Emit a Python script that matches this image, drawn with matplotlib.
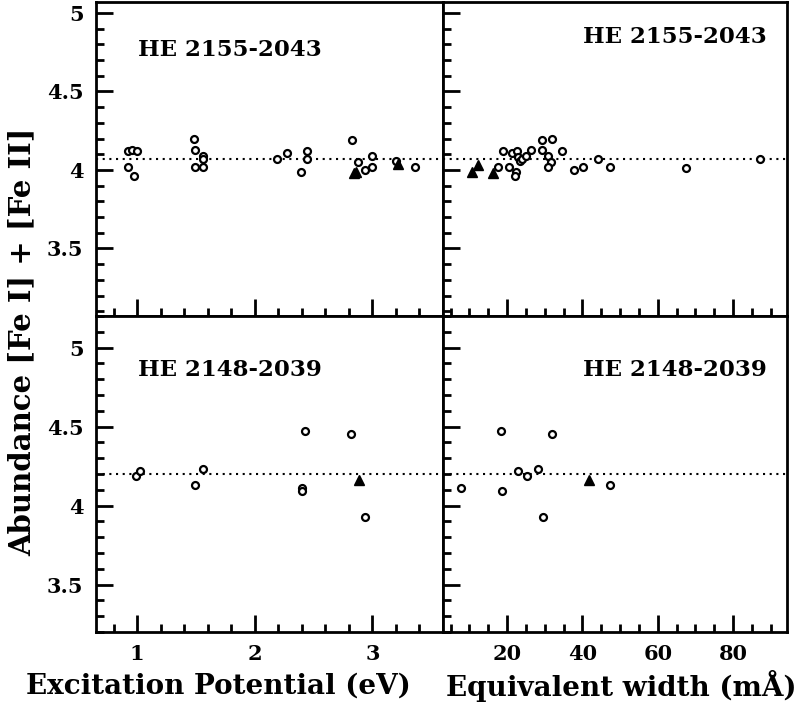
import matplotlib
matplotlib.use("Agg")
import matplotlib.pyplot as plt
from matplotlib.ticker import MultipleLocator

# HE 2155-2043: Fe I (circles) and Fe II (triangles)
ep_2155_fe1 = [0.92, 0.92, 0.96, 1.00, 0.97, 1.48, 1.49, 1.49, 1.56, 1.56, 1.56,
               2.19, 2.27, 2.39, 2.44, 2.44, 2.83, 2.88, 2.94, 3.00, 3.00, 3.20, 3.36]
ab_2155_fe1_ep = [4.02, 4.12, 4.13, 4.12, 3.96, 4.20, 4.13, 4.02, 4.09, 4.07, 4.02,
                  4.07, 4.11, 3.99, 4.12, 4.07, 4.19, 4.05, 4.00, 4.09, 4.02, 4.06, 4.02]
ep_2155_fe2 = [2.84, 2.86, 3.22]
ab_2155_fe2_ep = [3.98, 3.99, 4.04]

ew_2155_fe1 = [19.0, 17.6, 20.5, 21.4, 22.6, 22.4, 22.0, 22.8, 23.5, 24.0, 24.9, 26.4,
               29.4, 29.4, 31.8, 30.8, 31.7, 30.9, 34.6, 37.9, 40.2, 44.2, 47.3, 67.6, 87.2]
ab_2155_fe1_ew = [4.12, 4.02, 4.02, 4.11, 4.12, 3.99, 3.96, 4.08, 4.06, 4.07, 4.09, 4.13,
                  4.19, 4.13, 4.20, 4.09, 4.05, 4.02, 4.12, 4.00, 4.02, 4.07, 4.02, 4.01, 4.07]
ew_2155_fe2 = [10.6, 12.4, 16.4]
ab_2155_fe2_ew = [3.99, 4.03, 3.98]
mean_2155 = 4.07

# HE 2148-2039
ep_2148_fe1 = [0.99, 1.02, 1.49, 1.56, 2.43, 2.40, 2.40, 2.82, 2.94]
ab_2148_fe1_ep = [4.19, 4.22, 4.13, 4.23, 4.47, 4.11, 4.09, 4.45, 3.93]
ep_2148_fe2 = [2.89]
ab_2148_fe2_ep = [4.16]

ew_2148_fe1 = [7.7, 18.3, 18.6, 23.0, 25.3, 28.1, 29.5, 31.9, 47.3]
ab_2148_fe1_ew = [4.11, 4.47, 4.09, 4.22, 4.19, 4.23, 3.93, 4.45, 4.13]
ew_2148_fe2 = [41.7]
ab_2148_fe2_ew = [4.16]
mean_2148 = 4.20

star_names = ["HE 2155-2043", "HE 2148-2039"]
ep_ticks = [1, 2, 3]
ew_ticks = [20, 40, 60, 80]
ab_ticks = [3.5, 4, 4.5, 5]

FONT = dict(family="DejaVu Serif", weight="bold")

W, H = 807, 706
fig = plt.figure(figsize=(W / 100, H / 100), dpi=100)

xl, xm, xr = 96 / W, 443 / W, 787 / W
yb, ym, yt = 1 - 632 / H, 1 - 316 / H, 1 - 2 / H

axes = {
    (0, 0): fig.add_axes([xl, ym, xm - xl, yt - ym]),
    (0, 1): fig.add_axes([xm, ym, xr - xm, yt - ym]),
    (1, 0): fig.add_axes([xl, yb, xm - xl, ym - yb]),
    (1, 1): fig.add_axes([xm, yb, xr - xm, ym - yb]),
}

panels = [
    ((0, 0), ep_2155_fe1, ab_2155_fe1_ep, ep_2155_fe2, ab_2155_fe2_ep, mean_2155, star_names[0], (0.121, 0.847)),
    ((0, 1), ew_2155_fe1, ab_2155_fe1_ew, ew_2155_fe2, ab_2155_fe2_ew, mean_2155, star_names[0], (0.407, 0.889)),
    ((1, 0), ep_2148_fe1, ab_2148_fe1_ep, ep_2148_fe2, ab_2148_fe2_ep, mean_2148, star_names[1], (0.121, 0.829)),
    ((1, 1), ew_2148_fe1, ab_2148_fe1_ew, ew_2148_fe2, ab_2148_fe2_ew, mean_2148, star_names[1], (0.407, 0.829)),
]

for key, x1, y1, x2, y2, mean, name, tpos in panels:
    ax = axes[key]
    row, col = key
    ax.plot(x1, y1, linestyle="none", marker="o", markersize=5.0,
            markerfacecolor="white", markeredgecolor="black", markeredgewidth=1.6, zorder=3)
    ax.plot(x2, y2, linestyle="none", marker="^", markersize=7.5,
            color="black", zorder=4)
    ax.axhline(mean, color="black", linewidth=1.5, linestyle=(0, (1, 2.2)), zorder=2)
    ax.set_ylim(mean - 1.0, mean + 1.0)
    if col == 0:
        ax.set_xlim(0.65, 3.6)
        ax.set_xticks(ep_ticks)
        ax.xaxis.set_minor_locator(MultipleLocator(0.2))
    else:
        ax.set_xlim(3.0, 94.3)
        ax.set_xticks(ew_ticks)
        ax.xaxis.set_minor_locator(MultipleLocator(5))
    ax.set_yticks(ab_ticks)
    ax.yaxis.set_minor_locator(MultipleLocator(0.1))
    ax.tick_params(which="both", direction="in", top=False, right=False, width=2)
    ax.tick_params(which="major", length=12, pad=9)
    ax.tick_params(which="minor", length=6)
    for s in ax.spines.values():
        s.set_linewidth(2)
    ax.set_yticklabels([("%g" % v) for v in ab_ticks], fontsize=15, **FONT)
    ax.set_xticklabels([("%g" % v) for v in ax.get_xticks()], fontsize=15, **FONT)
    if col == 1:
        ax.tick_params(labelleft=False)
    if row == 0:
        ax.tick_params(labelbottom=False)
    ax.text(tpos[0], tpos[1], name, transform=ax.transAxes, fontsize=16.5,
            ha="left", va="center", **FONT)

fig.text(22 / W, 1 - 342 / H, "Abundance [Fe I] + [Fe II]", rotation=90,
         ha="center", va="center", fontsize=21, **FONT)
fig.text(218 / W, 1 - 686 / H, "Excitation Potential (eV)",
         ha="center", va="center", fontsize=20, **FONT)
fig.text(621 / W, 1 - 686 / H, "Equivalent width (mÅ)",
         ha="center", va="center", fontsize=20, **FONT)

fig.savefig("out.png", dpi=100, facecolor="white")
